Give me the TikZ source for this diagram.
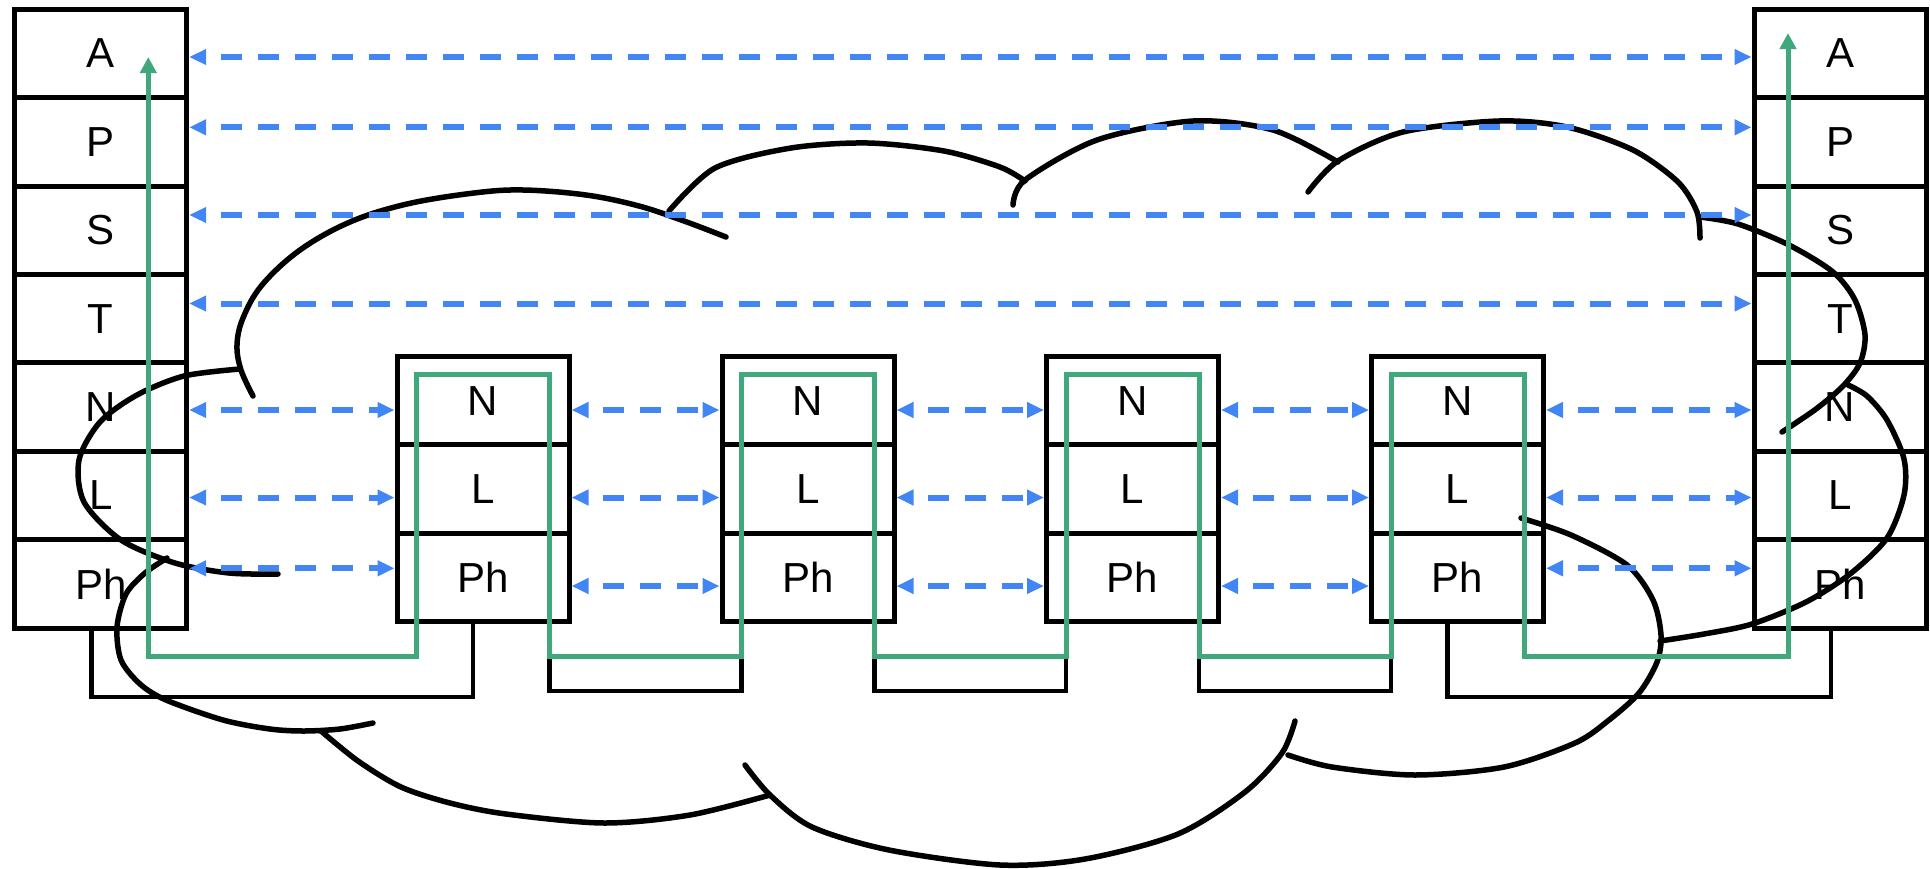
\documentclass[tikz,border=0pt]{standalone}
\usepackage{fontspec}
\setmainfont{Liberation Sans}
\usetikzlibrary{arrows.meta,calc}
\definecolor{msgblue}{RGB}{66,133,244}
\definecolor{routegreen}{RGB}{64,168,122}
\begin{document}
\begin{tikzpicture}[x=1pt,y=-1pt,
  layer/.style={draw=black,line width=5pt,minimum width=172pt,minimum height=88.4pt,
    inner sep=0pt,font=\fontsize{42}{42}\selectfont},
  peer/.style={draw=msgblue,line width=6pt,dash pattern=on 21pt off 16pt,dash phase=21pt,
    {Triangle[length=17pt,width=15pt]}-{Triangle[length=17pt,width=15pt]}},
  route/.style={draw=routegreen,line width=5pt,line join=miter,
    {Triangle[length=16pt,width=16pt]}-{Triangle[length=16pt,width=16pt]}},
  wire/.style={draw=black,line width=4.5pt},
  cloudline/.style={draw=black,line width=5.5pt,line cap=round}
]
\useasboundingbox (0,0) rectangle (1930,868);

% --- cloud (network) drawn underneath everything ---
\draw[cloudline] plot[smooth] coordinates {(240,369) (184,376) (137,395) (100,422) (79,460) (84,502) (121,540) (175,563) (229,573) (278,574)};
\draw[cloudline] plot[smooth,tension=0.6] coordinates {(253,396) (241,370) (237,345) (243,318) (262,285) (300,250) (350,222) (407,204) (474,193) (523,190) (586,195) (639,206) (684,221) (726,237)};
\draw[cloudline] plot[smooth] coordinates {(669,211) (715,168) (791,148) (868,143) (944,151) (1000,167) (1025,181)};
\draw[cloudline] plot[smooth] coordinates {(1013,205) (1025,180) (1097,140) (1193,121) (1273,130) (1338,162)};
\draw[cloudline] plot[smooth] coordinates {(1308,192) (1338,161) (1403,132) (1499,121) (1567,127) (1633,150) (1678,182) (1697,212) (1700,238)};
\draw[cloudline] plot[smooth] coordinates {(1700,217) (1738,224) (1789,245) (1833,272) (1855,300) (1865,335) (1860,363) (1843,386) (1816,409) (1782,432)};
\draw[cloudline] plot[smooth] coordinates {(1660,641) (1704,634) (1752,624) (1806,602) (1850,574) (1887,538) (1904,495) (1904,459) (1887,420) (1867,396) (1848,385)};
\draw[cloudline] plot[smooth] coordinates {(1521,518) (1571,535) (1627,565) (1653,600) (1661,635) (1657,662) (1639,693) (1609,720) (1575,743) (1504,767) (1415,775) (1332,767) (1288,755)};
\draw[cloudline] plot[smooth] coordinates {(745,765) (770,795) (812,827) (889,850) (1000,865) (1085,859) (1178,834) (1245,792) (1282,753) (1295,721)};
\draw[cloudline] plot[smooth] coordinates {(321,731) (358,761) (401,787) (450,803) (506,814) (604,823) (690,815) (770,795)};
\draw[cloudline] plot[smooth] coordinates {(167,558) (145,573) (126,594) (117,627) (121,660) (140,684) (166,700) (223,720) (270,729) (304,731) (340,729) (373,723)};

% --- end-host protocol stacks ---
\foreach \lab [count=\i from 0] in {A,P,S,T,N,L,Ph} {
  \node[layer] (s\lab) at (100.7,{53.4+88.4*\i}) {\lab};
  \node[layer] (d\lab) at (1840,{53.4+88.4*\i}) {\lab};
}

% --- intermediate routers (three lower layers) ---
\foreach \k/\cx in {1/483,2/808,3/1132.5,4/1457.5} {
  \foreach \lab [count=\i from 0] in {N,L,Ph} {
    \node[layer] (m\k\lab) at (\cx,{400.7+88.4*\i}) {\lab};
  }
  \coordinate (ga\k) at ([xshift=-66.5pt]m\k N.center);
  \coordinate (gb\k) at ([xshift=66.5pt]m\k N.center);
}

% --- levels used by the connectors ---
\coordinate (yA) at (0,57);
\coordinate (yP) at (0,127.3);
\coordinate (yS) at (0,215);
\coordinate (yT) at (0,303.5);
\coordinate (yN) at (0,410);
\coordinate (yL) at (0,497.5);
\coordinate (yPhE) at (0,568.3);
\coordinate (yPhM) at (0,586);
\coordinate (gTop) at (0,374.5);
\coordinate (gBot) at (0,656);
\coordinate (wireY) at (0,697);
\coordinate (wireYm) at (0,691);

% --- physical links between neighbouring boxes ---
\coordinate (w0a) at ([xshift=-9pt]sPh.south);
\coordinate (w0b) at ([xshift=-10pt]m1Ph.south);
\draw[wire] (w0a) -- (w0a |- wireY) -- (w0b |- wireY) -- (w0b);
\draw[wire] (gb1 |- m1Ph.south) -- (gb1 |- wireYm) -- (ga2 |- wireYm) -- (ga2 |- m2Ph.south);
\draw[wire] (gb2 |- m2Ph.south) -- (gb2 |- wireYm) -- (ga3 |- wireYm) -- (ga3 |- m3Ph.south);
\draw[wire] (gb3 |- m3Ph.south) -- (gb3 |- wireYm) -- (ga4 |- wireYm) -- (ga4 |- m4Ph.south);
\coordinate (w5a) at ([xshift=-10pt]m4Ph.south);
\coordinate (w5b) at ([xshift=-9pt]dPh.south);
\draw[wire] (w5a) -- (w5a |- wireY) -- (w5b |- wireY) -- (w5b);

% --- actual data path through every hop ---
\coordinate (gsrc) at (148.3,57);
\coordinate (gdst) at (1788,33);
\draw[route] (gsrc) -- (gsrc |- gBot)
  -- (ga1 |- gBot) -- (ga1 |- gTop) -- (gb1 |- gTop) -- (gb1 |- gBot)
  -- (ga2 |- gBot) -- (ga2 |- gTop) -- (gb2 |- gTop) -- (gb2 |- gBot)
  -- (ga3 |- gBot) -- (ga3 |- gTop) -- (gb3 |- gTop) -- (gb3 |- gBot)
  -- (ga4 |- gBot) -- (ga4 |- gTop) -- (gb4 |- gTop) -- (gb4 |- gBot)
  -- (gdst |- gBot) -- (gdst);

% --- peer-to-peer (logical) communication ---
\foreach \lab in {A,P,S,T}
  \draw[peer] (s\lab.east |- y\lab) -- (d\lab.west |- y\lab);
\foreach \lab/\yy/\ym in {N/yN/yN,L/yL/yL,Ph/yPhE/yPhM} {
  \draw[peer] (s\lab.east |- \yy) -- (m1\lab.west |- \yy);
  \draw[peer] (m1\lab.east |- \ym) -- (m2\lab.west |- \ym);
  \draw[peer] (m2\lab.east |- \ym) -- (m3\lab.west |- \ym);
  \draw[peer] (m3\lab.east |- \ym) -- (m4\lab.west |- \ym);
  \draw[peer] (m4\lab.east |- \yy) -- (d\lab.west |- \yy);
}
\end{tikzpicture}
\end{document}
